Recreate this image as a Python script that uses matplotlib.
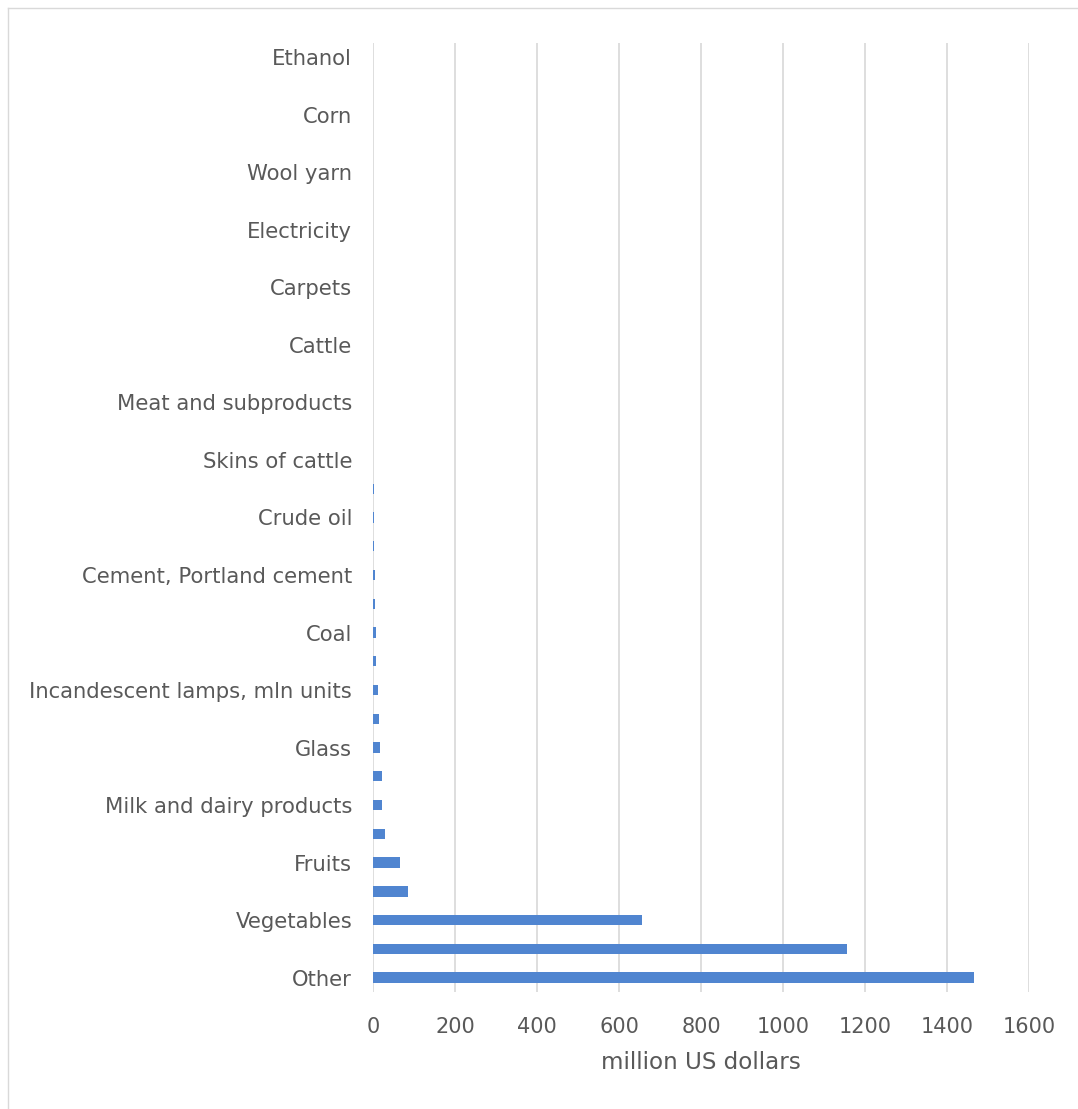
import matplotlib
matplotlib.use("Agg")
import matplotlib.pyplot as plt
from matplotlib.lines import Line2D

# Categories listed top to bottom (only every other label is shown on the chart)
categories = [
    "Ethanol", "", "Corn", "", "Wool yarn", "", "Electricity", "",
    "Carpets", "", "Cattle", "", "Meat and subproducts", "",
    "Skins of cattle", "", "Crude oil", "", "Cement, Portland cement", "",
    "Coal", "", "Incandescent lamps, mln units", "", "Glass", "",
    "Milk and dairy products", "", "Fruits", "", "Vegetables", "", "Other",
]
values = [
    0.1, 0.1, 0.1, 0.2, 0.2, 0.3, 0.3, 0.4,
    0.5, 0.5, 0.6, 0.7, 0.8, 0.9,
    1.0, 1.5, 1.5, 1.5, 4, 4,
    7, 7, 11, 14, 18, 21,
    23, 29, 67, 85, 655, 1155, 1466,
]
xticks = [0, 200, 400, 600, 800, 1000, 1200, 1400, 1600]
xlabel = "million US dollars"

W, H = 1078, 1109
fig = plt.figure(figsize=(W / 100, H / 100), dpi=100)
fig.patch.set_facecolor("white")

text_color = "#595959"
grid_color = "#dedede"
bar_color = "#5085d0"
plt.rcParams["font.family"] = ["DejaVu Sans"]

left, right, top, bottom = 373, 1029, 43, 992
ax = fig.add_axes([left / W, 1 - bottom / H, (right - left) / W, (bottom - top) / H])

pos = list(range(len(categories)))
ax.barh(pos, values, height=0.36, color=bar_color, zorder=3)

ax.set_xlim(0, 1600)
ax.set_ylim(len(categories) - 0.5, -0.5)
ax.set_xticks(xticks)
ax.set_xticklabels([str(t) for t in xticks], fontsize=15, color=text_color)
shown = [i for i in pos if categories[i]]
ax.set_yticks(shown)
ax.set_yticklabels([categories[i] for i in shown], fontsize=15.2, color=text_color)
ax.tick_params(axis="both", length=0)
ax.tick_params(axis="y", pad=15)
ax.tick_params(axis="x", pad=18)
ax.grid(axis="x", color=grid_color, linewidth=1.4, zorder=0)
ax.grid(axis="y", visible=False)
for s in ax.spines.values():
    s.set_visible(False)
ax.set_xlabel(xlabel, fontsize=16.6, color=text_color, labelpad=10)

# chart border (top and left visible in the reference)
fig.add_artist(Line2D([8 / W, 1], [1 - 8 / H, 1 - 8 / H], color="#d9d9d9", linewidth=1.0,
                      transform=fig.transFigure))
fig.add_artist(Line2D([8 / W, 8 / W], [0, 1 - 8 / H], color="#d9d9d9", linewidth=1.0,
                      transform=fig.transFigure))

fig.savefig("out.png", dpi=100, facecolor="white")
